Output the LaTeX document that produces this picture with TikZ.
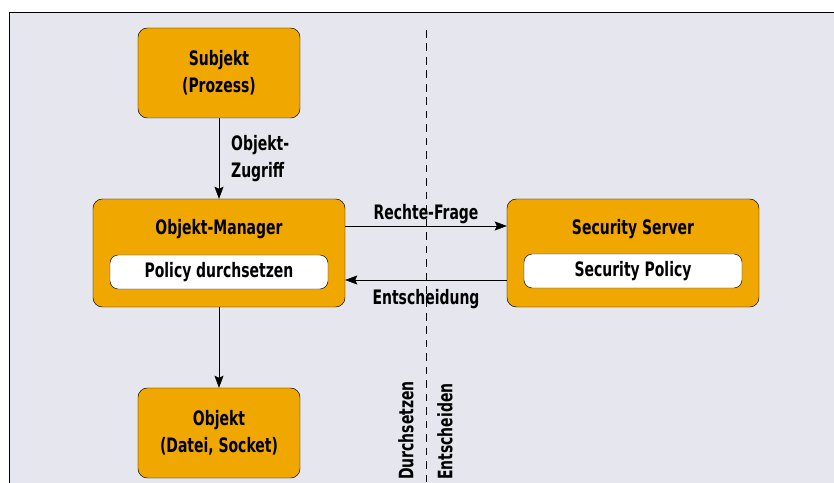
\documentclass[tikz,border=0pt]{standalone}
\usepackage{fontspec}
\setmainfont{DejaVu Sans Condensed}[FakeStretch=0.78]
\usepackage{tikz}
\usetikzlibrary{arrows.meta,positioning}
\definecolor{bgcol}{HTML}{E6E7EE}
\definecolor{boxcol}{HTML}{F0A800}
\newcommand{\lbl}{\fontsize{17}{23}\selectfont\bfseries}

\begin{document}
\begin{tikzpicture}[x=0.03cm, y=-0.03cm,
  font=\lbl,
  box/.style={draw, rounded corners=8pt, fill=boxcol, minimum width=4.86cm, minimum height=2.7cm, align=center},
  bigbox/.style={draw, rounded corners=8pt, fill=boxcol, minimum width=7.56cm, minimum height=3.24cm},
  inner/.style={draw, rounded corners=7pt, fill=white, minimum width=6.54cm, minimum height=1.02cm, inner sep=0pt},
  arrow/.style={-{Stealth[length=3.6mm,width=2.7mm,inset=0.6mm]}}
]
% frame
\useasboundingbox (0,0) rectangle (834,483);
\fill[bgcol] (9,12) rectangle (834,483);
\draw (9,483) -- (9,12) -- (834,12);
% boxes
\node[box] (subj) at (219,73) {Subjekt\\(Prozess)};
\node[bigbox] (om) at (219,253) {};
\node (omt) at (219,229) {Objekt-Manager};
\node[inner] (ps) at (219,272) {Policy durchsetzen};
\node[bigbox] (ss) at (633,253) {};
\node (sst) at (633,229) {Security Server};
\node[inner] (sp) at (633,271) {Security Policy};
\node[box] (obj) at (219,433) {Objekt\\(Datei, Socket)};
% arrows
\draw[arrow] (subj) -- (om);
\node[anchor=west, align=left] (zug) at (227,159) {Objekt-\\Zugriff};
\draw[arrow] (om) -- (obj);
\draw[arrow] ([yshift=0.81cm]om.east) -- node[above, inner sep=2pt] (rf) {Rechte-Frage} ([yshift=0.81cm]ss.west);
\draw[arrow] ([yshift=-0.81cm]ss.west) -- node[below, inner sep=8pt] (ent) {Entscheidung} ([yshift=-0.81cm]om.east);
% dividing line
\coordinate (dtop) at (426,30);
\coordinate (dbot) at (426,483);
\draw[dash pattern=on 6.5pt off 5pt] (dtop) -- (dbot);
\node[rotate=90, anchor=west] (durch) at (406,484) {Durchsetzen};
\node[rotate=90, anchor=west] (entsch) at (445,484) {Entscheiden};
\end{tikzpicture}
\end{document}
